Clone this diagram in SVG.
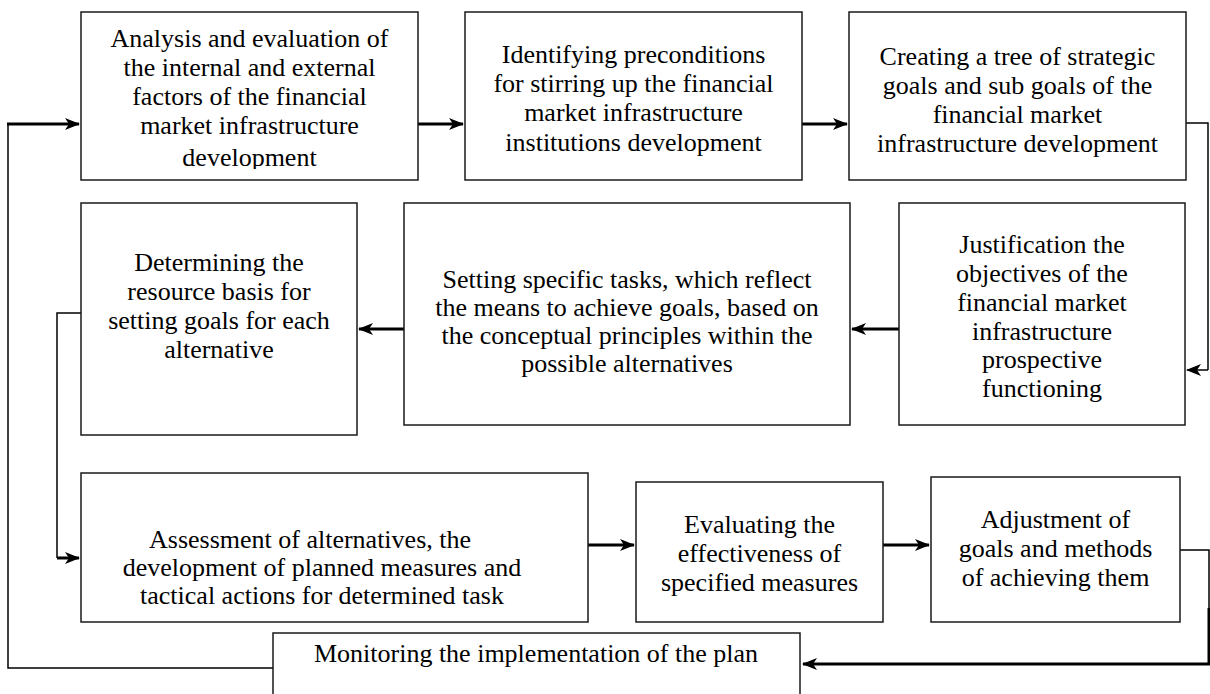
<svg xmlns="http://www.w3.org/2000/svg" width="1210" height="694" viewBox="0 0 1210 694">
<style>
.box{fill:#fff;stroke:#1a1a1a;stroke-width:1.5}
.t{font-family:"Liberation Serif","Times New Roman",serif;font-size:26px;fill:#000;text-anchor:middle}
.thick{fill:none;stroke:#000;stroke-width:3}
.thin{fill:none;stroke:#000;stroke-width:1.5}
</style>
<defs>
<marker id="ah" markerUnits="userSpaceOnUse" markerWidth="16" markerHeight="14" refX="14" refY="7" orient="auto">
<path d="M0,1 L15,7 L0,13 L4,7 Z" fill="#000"/>
</marker>
<clipPath id="c1"><rect x="81" y="12" width="337" height="157"/></clipPath>
</defs>
<rect width="1210" height="694" fill="#fff"/>
<g id="connectors">
<path class="thin" d="M273,668 H8 V124"/>
<path class="thick" d="M7,124 H79" marker-end="url(#ah)"/>
<path class="thick" d="M418,124 H463" marker-end="url(#ah)"/>
<path class="thick" d="M802,124 H847" marker-end="url(#ah)"/>
<path class="thin" d="M1186,123 H1208 V370"/>
<path class="thin" d="M1208,370 H1187" marker-end="url(#ah)"/>
<path class="thick" d="M899,329 H852" marker-end="url(#ah)"/>
<path class="thick" d="M404,329 H359" marker-end="url(#ah)"/>
<path class="thin" d="M81,313 H57 V558"/>
<path class="thick" d="M57,558 H79" marker-end="url(#ah)"/>
<path class="thick" d="M588,545 H634" marker-end="url(#ah)"/>
<path class="thick" d="M883,545 H929" marker-end="url(#ah)"/>
<path class="thin" d="M1180,550 H1209 V610"/>
<path class="thick" d="M1209,608 V664 H803" marker-end="url(#ah)"/>
</g>
<g id="n1">
<rect class="box" x="81" y="12" width="337" height="168"/>
<g clip-path="url(#c1)">
<text class="t" x="249.5" y="47">Analysis and evaluation of</text>
<text class="t" x="249.5" y="76">the internal and external</text>
<text class="t" x="249.5" y="105">factors of the financial</text>
<text class="t" x="249.5" y="134">market infrastructure</text>
<text class="t" x="249.5" y="166">development</text>
</g>
</g>
<g id="n2">
<rect class="box" x="465" y="12" width="337" height="168"/>
<text class="t" x="633.5" y="63">Identifying preconditions</text>
<text class="t" x="633.5" y="92">for stirring up the financial</text>
<text class="t" x="633.5" y="121">market infrastructure</text>
<text class="t" x="633.5" y="151">institutions development</text>
</g>
<g id="n3">
<rect class="box" x="849" y="12" width="337" height="168"/>
<text class="t" x="1017.5" y="65">Creating a tree of strategic</text>
<text class="t" x="1017.5" y="94">goals and sub goals of the</text>
<text class="t" x="1017.5" y="123">financial market</text>
<text class="t" x="1017.5" y="152">infrastructure development</text>
</g>
<g id="n4">
<rect class="box" x="899" y="203" width="286" height="222"/>
<text class="t" x="1042" y="253">Justification the</text>
<text class="t" x="1042" y="282">objectives of the</text>
<text class="t" x="1042" y="311">financial market</text>
<text class="t" x="1042" y="340">infrastructure</text>
<text class="t" x="1042" y="368">prospective</text>
<text class="t" x="1042" y="397">functioning</text>
</g>
<g id="n5">
<rect class="box" x="404" y="203" width="446" height="222"/>
<text class="t" x="627" y="288">Setting specific tasks, which reflect</text>
<text class="t" x="627" y="316">the means to achieve goals, based on</text>
<text class="t" x="627" y="344">the conceptual principles within the</text>
<text class="t" x="627" y="372">possible alternatives</text>
</g>
<g id="n6">
<rect class="box" x="81" y="203" width="276" height="232"/>
<text class="t" x="219" y="271">Determining the</text>
<text class="t" x="219" y="300">resource basis for</text>
<text class="t" x="219" y="329">setting goals for each</text>
<text class="t" x="219" y="358">alternative</text>
</g>
<g id="n7">
<rect class="box" x="81" y="473" width="507" height="149"/>
<text class="t" x="310" y="548">Assessment of alternatives, the</text>
<text class="t" x="322" y="576">development of planned measures and</text>
<text class="t" x="322" y="604">tactical actions for determined task</text>
</g>
<g id="n8">
<rect class="box" x="636" y="482" width="247" height="140"/>
<text class="t" x="759.5" y="533">Evaluating the</text>
<text class="t" x="759.5" y="562">effectiveness of</text>
<text class="t" x="759.5" y="591">specified measures</text>
</g>
<g id="n9">
<rect class="box" x="931" y="477" width="249" height="145"/>
<text class="t" x="1055.5" y="528">Adjustment of</text>
<text class="t" x="1055.5" y="557">goals and methods</text>
<text class="t" x="1055.5" y="586">of achieving them</text>
</g>
<g id="n10">
<rect class="box" x="273" y="633" width="527" height="66"/>
<text class="t" x="536" y="662">Monitoring the implementation of the plan</text>
</g>
</svg>
